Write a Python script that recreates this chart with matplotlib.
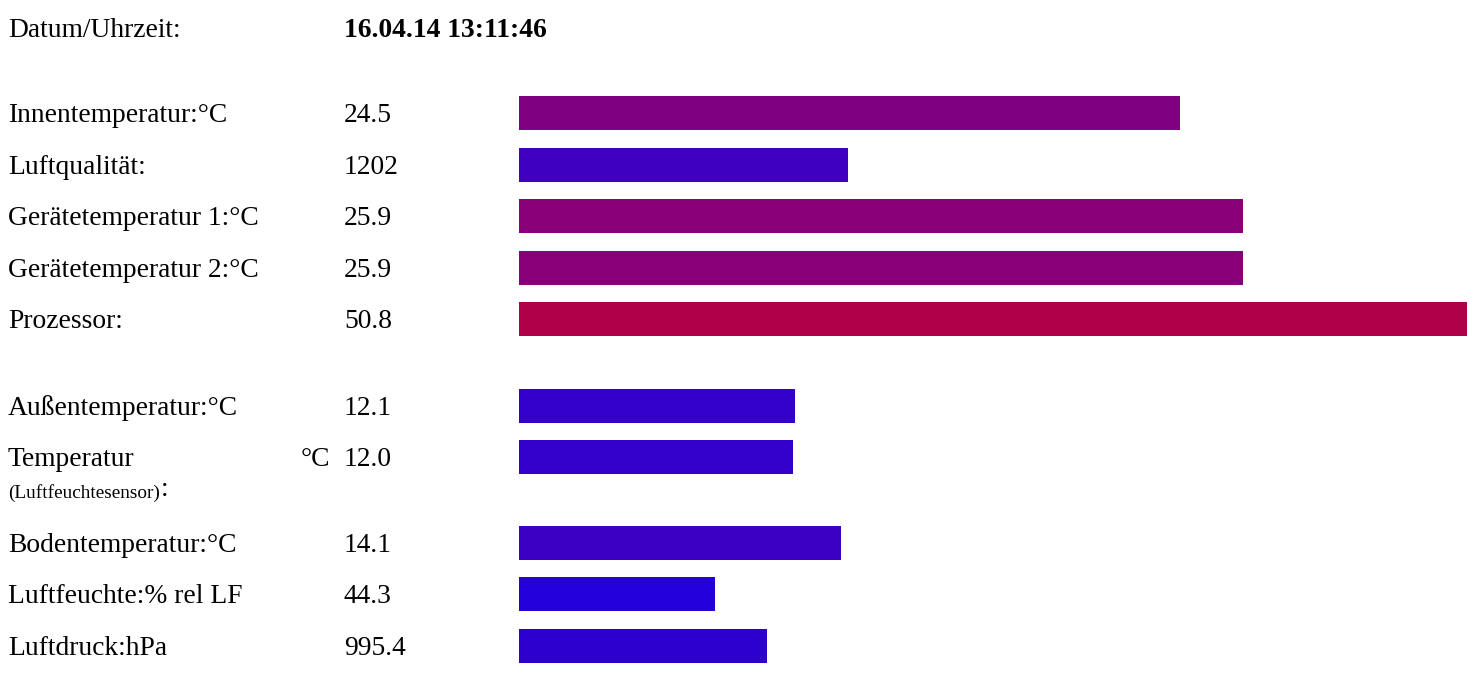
import matplotlib
matplotlib.use("Agg")
import matplotlib.pyplot as plt

# ---- data ----
header_label = "Datum/Uhrzeit:"
header_value = "16.04.14 13:11:46"

labels = ["Innentemperatur:°C", "Luftqualität:", "Gerätetemperatur 1:°C",
          "Gerätetemperatur 2:°C", "Prozessor:", "Außentemperatur:°C",
          "Temperatur", "Bodentemperatur:°C", "Luftfeuchte:% rel LF",
          "Luftdruck:hPa"]
values = ["24.5", "1202", "25.9", "25.9", "50.8", "12.1", "12.0", "14.1",
          "44.3", "995.4"]
# bar length in percent of the full bar column
bar_percent = [69.7, 34.7, 76.4, 76.4, 100.0, 29.1, 28.9, 34.0, 20.7, 26.2]
bar_colors = ["#7f0080", "#3f00c0", "#870078", "#870078", "#b0004a",
              "#3300cc", "#3300cc", "#3b00c3", "#2400da", "#2e00d0"]

# ---- layout (pixels) ----
W, H = 1478, 673
row_steps = [52, 51, 52, 51, 87, 51, 86, 51, 52]
row_y = [113.0]
for s in row_steps:
    row_y.append(row_y[-1] + s)

font = "Liberation Serif"
fs = 19.8
fig = plt.figure(figsize=(W / 100, H / 100), dpi=100)
ax = fig.add_axes([0, 0, 1, 1])
ax.set_xlim(0, W)
ax.set_ylim(H, 0)
ax.axis("off")

bx = fig.add_axes([519 / W, 0, 948 / W, 1])
bx.set_xlim(0, 100)
bx.set_ylim(H, 0)
bx.axis("off")
bx.barh(row_y, bar_percent, height=34, color=bar_colors, left=0)

ax.text(8, 28 + 9, header_label, family=font, fontsize=fs, va="baseline")
ax.text(344, 28 + 9, header_value, family=font, fontsize=fs,
        fontweight="bold", va="baseline")

for i, (lab, val, yc) in enumerate(zip(labels, values, row_y)):
    ax.text(8, yc + 9, lab, family=font, fontsize=fs, va="baseline")
    ax.text(344, yc + 9, val, family=font, fontsize=fs, va="baseline")
    if lab == "Temperatur":
        ax.text(330, yc + 9, "°C", family=font, fontsize=fs,
                va="baseline", ha="right")
        sub = ax.text(8, yc + 41, "(Luftfeuchtesensor)", family=font,
                      fontsize=13.9, va="baseline")
        ax.annotate(":", xycoords=sub, xy=(1, 0), xytext=(1, 0),
                    textcoords="offset points", family=font, fontsize=fs,
                    va="bottom", ha="left")

fig.savefig("out.png", dpi=100)
